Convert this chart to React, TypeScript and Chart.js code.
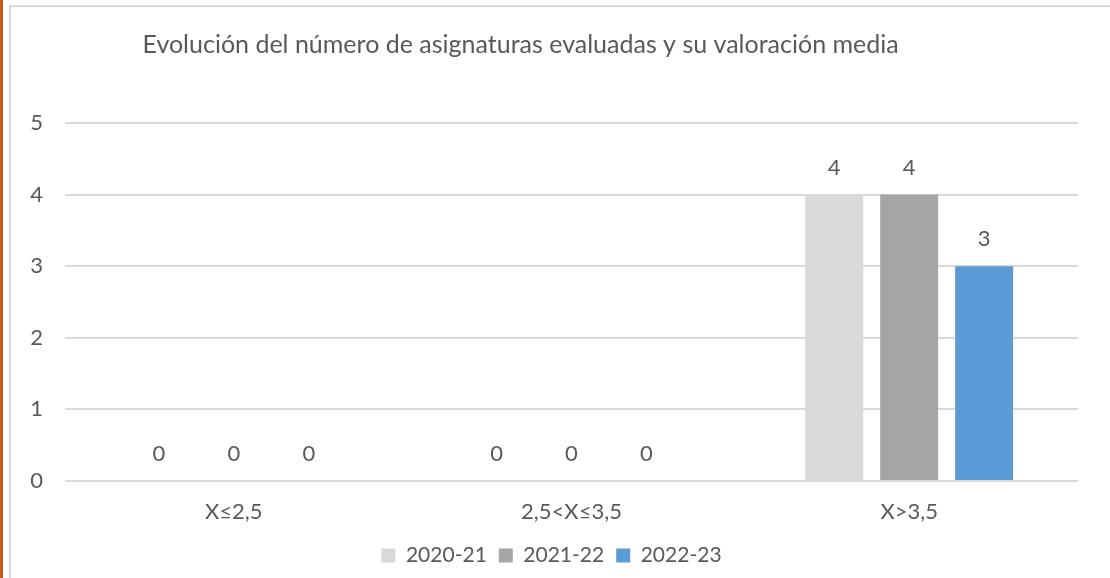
import React, { useEffect, useRef } from "react";
import { Chart, registerables } from "chart.js";

Chart.register(...registerables);

const categories = ["X≤2,5", "2,5<X≤3,5", "X>3,5"];
const seriesLabels = ["2020-21", "2021-22", "2022-23"];
const values2020 = [0, 0, 4];
const values2021 = [0, 0, 4];
const values2022 = [0, 0, 3];
const seriesColors = ["#d9d9d9", "#a5a5a5", "#5b9bd5"];
const yMin = 0;
const yMax = 5;
const yStep = 1;
const titleText = "Evolución del número de asignaturas evaluadas y su valoración media";

const FONT = "Lato, 'Open Sans', sans-serif";
const TEXT = "#595959";

const titlePlugin = {
  id: "customTitle",
  afterDraw(chart: any) {
    const ctx = chart.ctx;
    ctx.save();
    ctx.font = `25px ${FONT}`;
    ctx.fillStyle = TEXT;
    ctx.textAlign = "center";
    ctx.textBaseline = "middle";
    ctx.fillText(titleText, chart.width * 0.469, 45);
    ctx.restore();
  },
};

const valueLabelPlugin = {
  id: "valueLabels",
  afterDatasetsDraw(chart: any) {
    const ctx = chart.ctx;
    ctx.save();
    ctx.font = `22px ${FONT}`;
    ctx.fillStyle = TEXT;
    ctx.textAlign = "center";
    ctx.textBaseline = "middle";
    chart.data.datasets.forEach((ds: any, di: number) => {
      const meta = chart.getDatasetMeta(di);
      meta.data.forEach((el: any, i: number) => {
        ctx.fillText(String(ds.data[i]), el.x, el.y - 27);
      });
    });
    ctx.restore();
  },
};

export default function App() {
  const canvasRef = useRef<HTMLCanvasElement | null>(null);

  useEffect(() => {
    document.body.style.margin = "0";
    const canvas = canvasRef.current;
    if (!canvas) return;
    const seriesValues = [values2020, values2021, values2022];
    const chart = new Chart(canvas, {
      type: "bar",
      data: {
        labels: categories,
        datasets: seriesLabels.map((label, i) => ({
          label,
          data: seriesValues[i],
          backgroundColor: seriesColors[i],
          borderWidth: 0,
          barPercentage: 0.773,
          categoryPercentage: 0.666,
        })),
      },
      options: {
        animation: false,
        responsive: false,
        maintainAspectRatio: false,
        layout: { padding: { top: 123, right: 32, left: 25, bottom: 2 } },
        plugins: {
          title: { display: false },
          tooltip: { enabled: false },
          legend: {
            position: "bottom",
            labels: {
              font: { family: FONT, size: 21 },
              color: TEXT,
              boxWidth: 14,
              boxHeight: 14,
              padding: 12,
            },
          },
        },
        scales: {
          x: {
            grid: { display: false },
            border: { display: false },
            ticks: { font: { family: FONT, size: 22 }, color: TEXT, padding: 10 },
            afterFit(scale: any) {
              scale.height = 52;
            },
          },
          y: {
            min: yMin,
            max: yMax,
            grid: { color: "#d9d9d9", lineWidth: 2, drawTicks: false },
            border: { display: false },
            ticks: {
              stepSize: yStep,
              font: { family: FONT, size: 22 },
              color: TEXT,
              padding: 22,
            },
            afterFit(scale: any) {
              scale.width = 40;
            },
          },
        },
      },
      plugins: [titlePlugin, valueLabelPlugin],
    } as any);
    return () => chart.destroy();
  }, []);

  return (
    <div style={{ position: "relative", width: 1110, height: 578, overflow: "hidden", background: "#fff" }}>
      <div style={{ position: "absolute", left: 0, top: 0, width: 3, height: 578, background: "#c55a11" }} />
      <div
        style={{
          position: "absolute",
          left: 9,
          top: 5,
          width: 1140,
          height: 620,
          border: "2px solid #d9d9d9",
          boxSizing: "border-box",
        }}
      />
      <canvas ref={canvasRef} width={1110} height={578} style={{ position: "absolute", left: 0, top: 0 }} />
    </div>
  );
}
